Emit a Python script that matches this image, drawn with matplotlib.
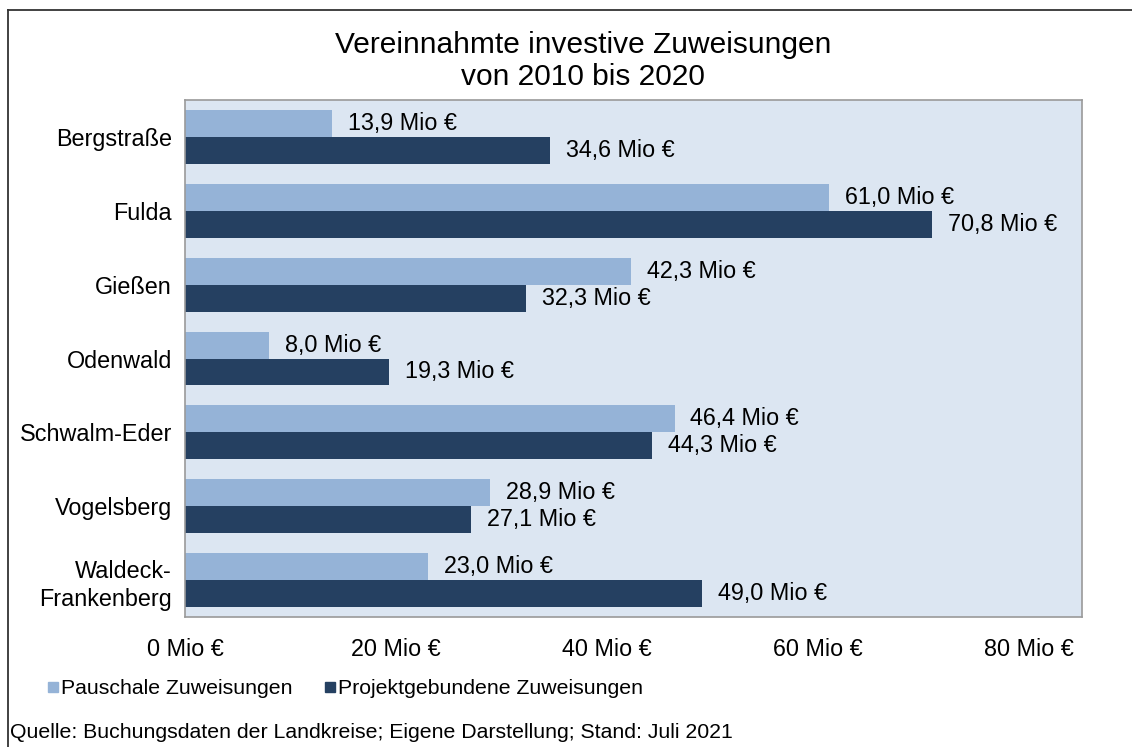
import matplotlib
matplotlib.use("Agg")
import matplotlib.pyplot as plt
from matplotlib.lines import Line2D

plt.rcParams['font.family'] = ['Liberation Sans', 'DejaVu Sans']

categories = ["Bergstraße", "Fulda", "Gießen", "Odenwald", "Schwalm-Eder", "Vogelsberg", "Waldeck-\nFrankenberg"]
pauschal = [13.9, 61.0, 42.3, 8.0, 46.4, 28.9, 23.0]
projekt = [34.6, 70.8, 32.3, 19.3, 44.3, 27.1, 49.0]
series_names = ["Pauschale Zuweisungen", "Projektgebundene Zuweisungen"]
xticks = [0, 20, 40, 60, 80]
title = "Vereinnahmte investive Zuweisungen\nvon 2010 bis 2020"
source = "Quelle: Buchungsdaten der Landkreise; Eigene Darstellung; Stand: Juli 2021"

c_light = "#95B3D7"
c_dark = "#254061"
c_bg = "#DCE6F2"

W, H = 1132, 747
fig = plt.figure(figsize=(W / 100, H / 100), dpi=100)
ax = fig.add_axes([185 / W, 1 - 617 / H, (1082 - 185) / W, (617 - 100) / H])
ax.set_facecolor(c_bg)

h = 0.365
ys = list(range(len(categories)))
ax.barh([y - h / 2 for y in ys], pauschal, height=h, color=c_light)
ax.barh([y + h / 2 for y in ys], projekt, height=h, color=c_dark)

fs_lab = 16.8
for y, v in zip(ys, pauschal):
    ax.text(v + 1.5, y - h / 2, f"{v:.1f} Mio €".replace(".", ","), va="center", ha="left", fontsize=fs_lab)
for y, v in zip(ys, projekt):
    ax.text(v + 1.5, y + h / 2, f"{v:.1f} Mio €".replace(".", ","), va="center", ha="left", fontsize=fs_lab)

ax.set_xlim(0, 85)
ax.set_ylim(len(categories) - 0.5, -0.5)
ax.set_yticks(ys)
ax.set_yticklabels(categories, fontsize=fs_lab, ha="right", linespacing=1.3)
ax.set_xticks(xticks)
ax.set_xticklabels([f"{t} Mio €" for t in xticks], fontsize=fs_lab)
ax.tick_params(axis="both", length=0)
ax.tick_params(axis="x", pad=15)
ax.tick_params(axis="y", pad=9.5)
for s in ax.spines.values():
    s.set_color("#9A9A9A")
    s.set_linewidth(1.2)

fig.text(583 / W, 1 - 61 / H, title, ha="center", va="center", fontsize=21.5, linespacing=1.22)

handles = [Line2D([], [], marker="s", color=c_light, linestyle="none", markersize=6.5),
           Line2D([], [], marker="s", color=c_dark, linestyle="none", markersize=6.5)]
fig.legend(handles, series_names, loc="center left", bbox_to_anchor=(48 / W, 1 - 689 / H),
           frameon=False, fontsize=15.3, handlelength=0.5, handletextpad=0.12, columnspacing=1.5,
           ncol=2, borderaxespad=0, borderpad=0)

fig.text(10 / W, 1 - 733 / H, source, ha="left", va="center", fontsize=15.3)

# outer frame (left and top only visible)
fig.add_artist(Line2D([8 / W, 8 / W], [0, 1 - 10 / H], color="#333333", lw=1.3, transform=fig.transFigure))
fig.add_artist(Line2D([8 / W, 1], [1 - 10 / H, 1 - 10 / H], color="#333333", lw=1.3, transform=fig.transFigure))

fig.savefig("out.png", dpi=100)
